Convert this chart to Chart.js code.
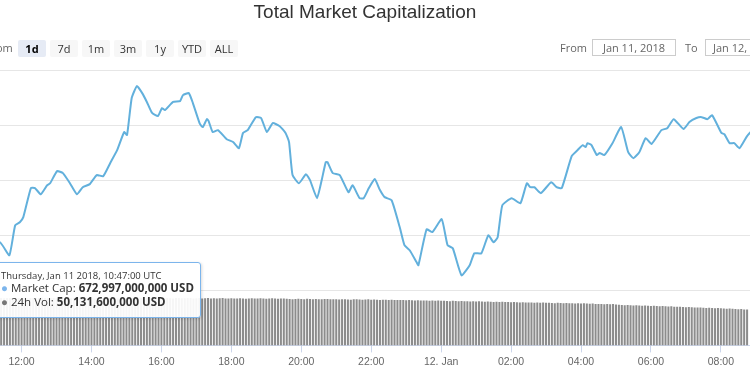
<!DOCTYPE html>
<html>
<head>
<meta charset="utf-8">
<script src="https://cdn.jsdelivr.net/npm/chart.js@4.4.1/dist/chart.umd.min.js"></script>
<style>
  body { margin: 0; background: #fff; }
  #wrap { position: relative; width: 750px; height: 375px; overflow: hidden; font-family: "Open Sans", sans-serif; }
  #grafico { position: absolute; left: 0; top: 0; }
  .titulo { position: absolute; left: 0; width: 730px; top: 0; text-align: center; font: 19px/24px "Liberation Sans", Arial, sans-serif; color: #333; }
  .zoom { position: absolute; left: -17px; top: 40px; line-height: 16px; font-size: 11px; color: #666; }
  .btn { position: absolute; top: 40px; width: 28px; height: 17px; line-height: 17px; text-align: center; font-size: 11px; color: #333; background: #f7f7f7; border-radius: 2px; }
  .btn.sel { background: #e6ebf5; color: #000; font-weight: bold; }
  .rotulo { position: absolute; top: 40px; line-height: 16px; font-size: 11px; color: #666; }
  .data { position: absolute; top: 39px; height: 15px; line-height: 15px; border: 1px solid #ccc; font-size: 11px; color: #666; text-align: center; white-space: nowrap; overflow: hidden; }
  .dica { position: absolute; left: -9px; top: 262px; width: 208px; height: 54px; border: 1px solid #7cb5ec; border-radius: 3px; background: rgba(255,255,255,0.92); box-shadow: 1px 1px 3px rgba(0,0,0,0.15); color: #333; white-space: nowrap; }
  .dica .cab { position: absolute; left: 9px; top: 6px; font-size: 9.5px; }
  .dica .lin { position: absolute; left: 9px; font-size: 11.5px; }
  .dica b { font-weight: bold; }
</style>
</head>
<body>
<div id="wrap">
  <canvas id="grafico" width="750" height="375"></canvas>
  <div class="titulo">Total Market Capitalization</div>
  <div class="zoom">Zoom</div>
  <div id="botoes"></div>
  <div class="rotulo" style="left:560px">From</div>
  <div class="data" style="left:592px;width:82px">Jan 11, 2018</div>
  <div class="rotulo" style="left:685px">To</div>
  <div class="data" style="left:705px;width:82px;text-align:left;padding-left:7px">Jan 12, 2018</div>
  <div class="dica">
    <div class="cab">Thursday, Jan 11 2018, 10:47:00 UTC</div>
    <div class="lin" style="top:17px"><span style="color:#7cb5ec">●</span> Market Cap: <b>672,997,000,000 USD</b></div>
    <div class="lin" style="top:31px"><span style="color:#777">●</span> 24h Vol: <b>50,131,600,000 USD</b></div>
  </div>
</div>
<script>
// Botões de período
const botoes = ['1d', '7d', '1m', '3m', '1y', 'YTD', 'ALL'];

// Capitalização de mercado (bilhões de USD), horário "dia hh:mm" em UTC
const horarios = [
  '11 10:47', '11 11:23', '11 11:39', '11 11:49', '11 11:57', '11 12:03', '11 12:16', '11 12:23', '11 12:33', '11 12:44',
  '11 12:49', '11 13:01', '11 13:11', '11 13:23', '11 13:35', '11 13:45', '11 13:57', '11 14:09', '11 14:20', '11 14:32',
  '11 14:44', '11 14:56', '11 15:01', '11 15:09', '11 15:18', '11 15:27', '11 15:35', '11 15:44', '11 15:54', '11 16:01',
  '11 16:06', '11 16:20', '11 16:32', '11 16:37', '11 16:47', '11 16:54', '11 17:06', '11 17:11', '11 17:18', '11 17:21',
  '11 17:28', '11 17:37', '11 17:52', '11 18:03', '11 18:13', '11 18:20', '11 18:28', '11 18:42', '11 18:51', '11 19:01',
  '11 19:11', '11 19:23', '11 19:33', '11 19:39', '11 19:45', '11 19:56', '11 20:08', '11 20:15', '11 20:27', '11 20:35',
  '11 20:42', '11 20:45', '11 20:54', '11 21:06', '11 21:21', '11 21:28', '11 21:40', '11 21:47', '11 21:56', '11 22:06',
  '11 22:15', '11 22:23', '11 22:35', '11 22:49', '11 22:57', '11 23:06', '11 23:18', '11 23:21', '11 23:35', '11 23:45',
  '12 00:01', '12 00:11', '12 00:20', '12 00:35', '12 00:49', '12 00:57', '12 01:09', '12 01:21', '12 01:30', '12 01:37',
  '12 01:45', '12 02:01', '12 02:16', '12 02:27', '12 02:33', '12 02:40', '12 02:51', '12 03:09', '12 03:18', '12 03:27',
  '12 03:44', '12 03:54', '12 04:03', '12 04:08', '12 04:11', '12 04:18', '12 04:27', '12 04:32', '12 04:40', '12 04:54',
  '12 05:09', '12 05:21', '12 05:30', '12 05:40', '12 05:51', '12 06:01', '12 06:18', '12 06:28', '12 06:39', '12 06:56',
  '12 07:06', '12 07:18', '12 07:27', '12 07:37', '12 07:45', '12 08:01', '12 08:06', '12 08:15', '12 08:23', '12 08:32',
  '12 08:45', '12 08:55'
];
const capMercado = [
  673.0, 671.8, 665.9, 679.5, 680.9, 683.2, 696.4, 696.4, 693.6, 697.7,
  698.6, 704.1, 703.2, 698.6, 693.6, 696.8, 698.2, 702.3, 701.8, 707.7,
  713.6, 721.8, 720.5, 737.3, 742.7, 739.5, 735.5, 730.5, 729.1, 732.7,
  731.8, 735.5, 735.9, 738.6, 739.5, 735.0, 725.5, 724.1, 727.7, 726.8,
  721.8, 722.7, 718.6, 717.3, 714.5, 721.4, 722.7, 728.6, 728.2, 721.8,
  725.9, 724.5, 721.4, 717.3, 702.3, 698.6, 702.7, 700.0, 691.8, 700.0,
  708.2, 708.2, 703.2, 702.3, 694.5, 697.7, 691.8, 691.8, 696.4, 700.5,
  695.5, 692.3, 690.9, 678.6, 670.5, 668.2, 662.7, 661.4, 677.7, 676.4,
  682.3, 670.5, 669.1, 656.8, 661.4, 666.8, 666.8, 675.0, 671.8, 674.1,
  688.6, 691.8, 689.5, 698.6, 696.8, 696.8, 694.1, 699.1, 696.8, 696.4,
  710.9, 713.6, 715.9, 715.0, 716.8, 715.9, 711.4, 712.3, 711.4, 716.8,
  724.1, 712.7, 710.0, 712.7, 719.1, 716.4, 722.7, 723.6, 727.7, 723.2,
  726.4, 728.2, 728.6, 727.7, 729.5, 721.4, 720.9, 716.8, 716.8, 714.5,
  720.0, 723.0
];

// Volume 24h (bilhões de USD), uma barra a cada 5 minutos a partir de 11 11:25
const volumeInicio = '11 11:25';
const volume = [
  49.9, 49.7, 50.0, 49.8, 49.6, 50.1, 49.8,
  49.9, 50.1, 49.7, 49.8, 50.0, 49.6, 49.9, 50.2, 49.8, 49.7, 50.0, 49.9,
  49.6, 49.9, 50.1, 49.8, 49.5, 49.7, 50.0, 49.8, 49.6, 49.9, 50.1, 49.7,
  49.8, 49.5, 49.7, 50.0, 49.9, 49.6, 49.8, 50.1, 49.7, 49.5, 49.8, 49.9,
  49.6, 49.9, 50.2, 49.8, 49.7, 50.0, 49.6, 49.8, 49.9, 49.5, 49.7, 50.0,
  49.8, 49.6, 49.9, 49.7, 49.5, 49.8, 50.0, 49.7, 49.6, 49.9, 49.8, 49.5,
  49.7, 49.9, 49.4, 49.6, 49.8, 49.5, 49.7, 49.3, 49.6, 49.8, 49.5, 49.4,
  49.6, 49.3, 49.5, 49.7, 49.4, 49.2, 49.5, 49.6, 49.3, 49.4, 49.7, 49.5,
  49.2, 49.4, 49.6, 49.3, 49.1, 49.5, 49.4, 49.2, 48.9, 48.7, 48.9, 49.1,
  48.9, 48.7, 49.0, 48.8, 48.6, 48.9, 48.7, 48.5, 48.8, 48.9, 48.6, 48.5,
  48.6, 48.3, 48.5, 48.7, 48.4, 48.2, 48.5, 48.6, 48.3, 48.1, 48.4, 48.5,
  48.2, 48.4, 48.1, 47.9, 48.2, 48.0, 47.8, 48.1, 47.9, 47.7, 47.9, 47.8,
  47.6, 47.8, 47.5, 47.3, 47.6, 47.4, 47.2, 47.4, 47.1, 47.3, 47.0, 47.2,
  46.9, 47.1, 46.8, 46.6, 46.9, 46.7, 46.5, 46.7, 46.4, 46.6, 46.3, 46.5,
  46.2, 46.4, 46.1, 45.9, 46.2, 46.0, 45.8, 46.0, 45.7, 45.9, 45.6, 45.8,
  45.5, 45.7, 45.4, 45.2, 45.5, 45.3, 45.1, 45.3, 45.0, 45.2, 44.9, 45.1,
  44.8, 45.0, 44.7, 44.5, 44.8, 44.6, 44.4, 44.6, 44.3, 44.5, 44.2, 44.4,
  44.1, 44.3, 44.0, 43.8, 44.0, 43.7, 43.5, 43.7, 43.4, 43.6, 43.3, 43.5,
  43.1, 42.9, 42.6, 42.4, 42.6, 42.3, 42.1, 42.3, 42.0, 41.8, 42.0, 41.7,
  41.5, 41.7, 41.4, 41.2, 41.4, 41.1, 40.9, 41.1, 40.8, 40.6, 40.8, 40.5,
  40.3, 40.5, 40.2, 40.0, 39.8, 40.0, 39.7, 39.5, 39.7, 39.4, 39.2, 39.4,
  39.1, 38.9, 38.6, 38.8, 38.5, 38.3, 38.0, 38.2, 37.9, 37.7
];

// Eixo X (horas desde 11 jan 00:00)
const tickHoras = [12, 14, 16, 18, 20, 22, 24, 26, 28, 30, 32];
const tickRotulos = ['12:00', '14:00', '16:00', '18:00', '20:00', '22:00', '12. Jan', '02:00', '04:00', '06:00', '08:00'];
const inicioVisivel = '11 11:23';
const fimVisivel = '12 08:50';

// Converte "dia hh:mm" em horas desde 11 jan 00:00
function paraHoras(txt) {
  const [dia, hm] = txt.split(' ');
  const [h, m] = hm.split(':').map(Number);
  return (Number(dia) - 11) * 24 + h + m / 60;
}

// Botões
const caixa = document.getElementById('botoes');
botoes.forEach((b, i) => {
  const el = document.createElement('div');
  el.className = 'btn' + (i === 0 ? ' sel' : '');
  el.style.left = (18 + i * 32) + 'px';
  el.textContent = b;
  caixa.appendChild(el);
});

const pontosCap = horarios.map((t, i) => ({ x: paraHoras(t), y: capMercado[i] }));
const v0 = paraHoras(volumeInicio);
const pontosVol = volume.map((v, i) => ({ x: v0 + i * 5 / 60, y: v }));

const config = {
  data: {
    datasets: [
      {
        type: 'line',
        label: 'Market Cap',
        data: pontosCap,
        yAxisID: 'y',
        borderColor: '#62b0dc',
        borderWidth: 2,
        pointRadius: 0,
        tension: 0.15,
        order: 0
      },
      {
        type: 'bar',
        label: '24h Vol',
        data: pontosVol,
        yAxisID: 'yv',
        backgroundColor: '#8c8c8c',
        barPercentage: 0.7,
        categoryPercentage: 1,
        order: 1
      }
    ]
  },
  options: {
    responsive: false,
    animation: false,
    layout: { padding: { top: 70, bottom: 4, left: 0, right: 0 } },
    plugins: { legend: { display: false }, tooltip: { enabled: false } },
    scales: {
      x: {
        type: 'linear',
        offset: false,
        min: paraHoras(inicioVisivel),
        max: paraHoras(fimVisivel),
        afterBuildTicks: s => { s.ticks = tickHoras.map(v => ({ value: v })); },
        grid: { offset: false, drawOnChartArea: false, drawTicks: true, tickLength: 7, color: '#ccd6eb' },
        border: { color: '#ccd6eb' },
        ticks: {
          padding: 3,
          maxRotation: 0,
          autoSkip: false,
          color: '#666',
          font: { family: 'Liberation Sans', size: 10.5 },
          callback: v => tickRotulos[tickHoras.indexOf(v)]
        }
      },
      y: {
        position: 'left',
        min: 625,
        max: 750,
        ticks: { display: false, stepSize: 25 },
        grid: { color: '#e6e6e6', drawTicks: false },
        border: { display: false }
      },
      yv: {
        display: false,
        min: 0,
        max: 290
      }
    }
  }
};

new Chart(document.getElementById('grafico').getContext('2d'), config);
</script>
</body>
</html>
